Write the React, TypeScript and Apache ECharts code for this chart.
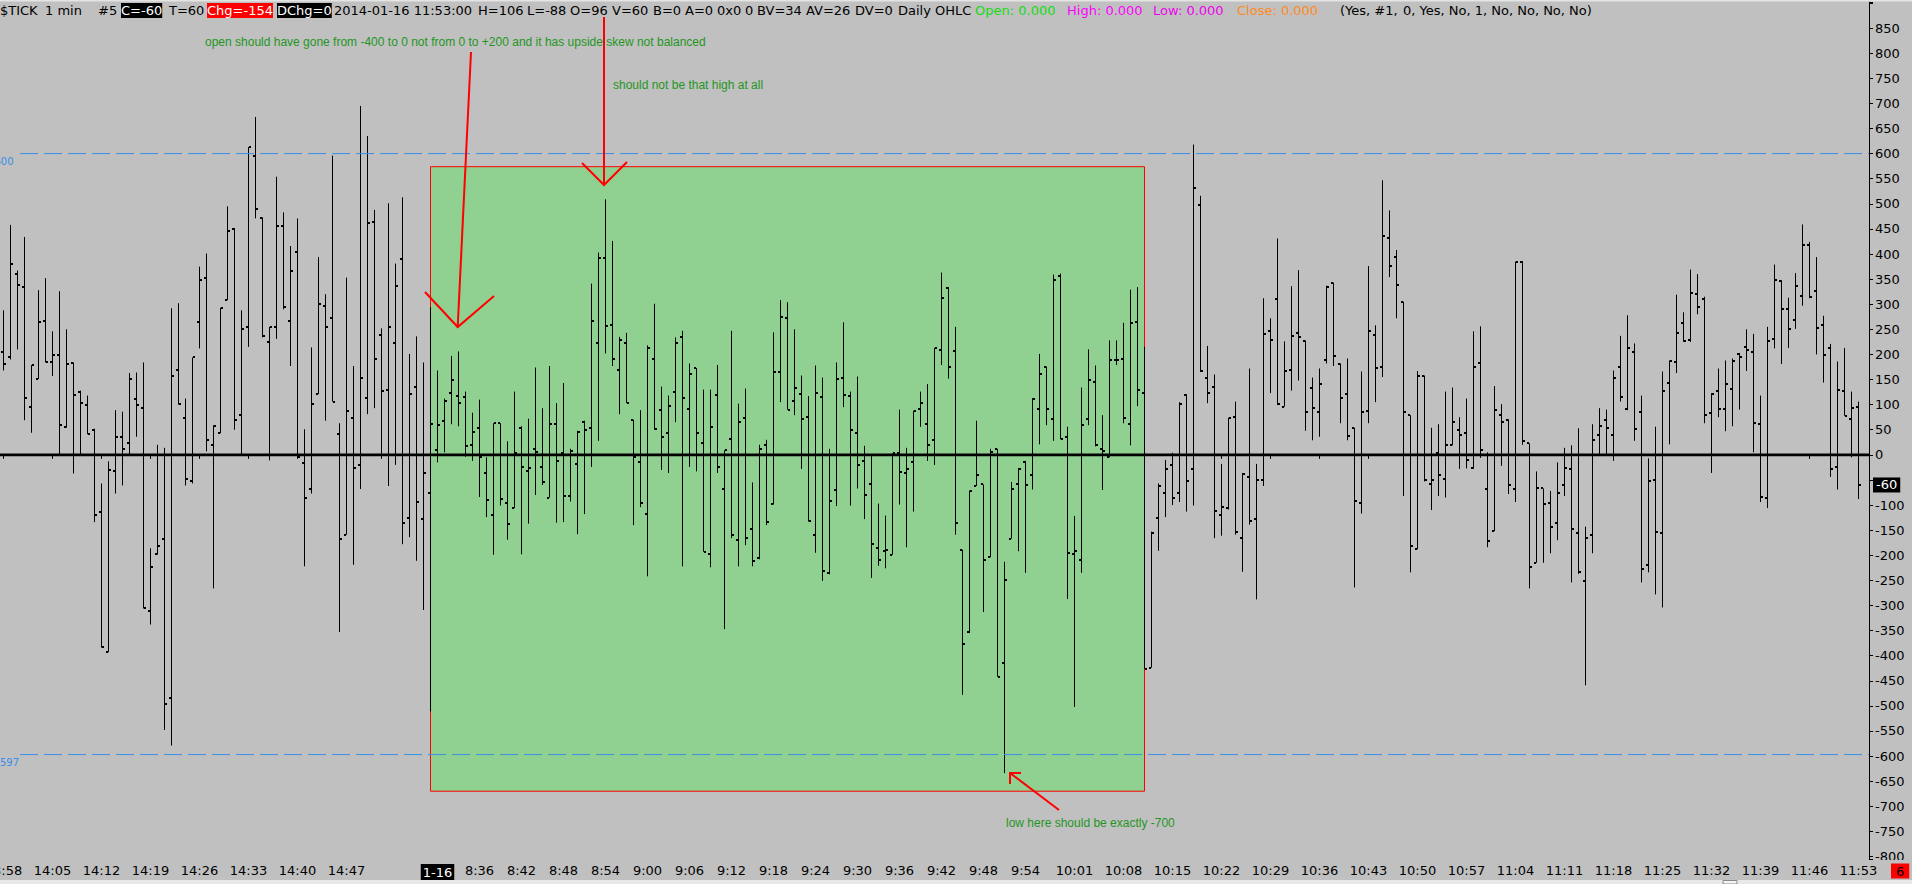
import React, { useEffect, useRef } from 'react';
import * as echarts from 'echarts';

// ---------- data ----------
const SESSIONS = [
  { date: '1-15', startHour: 13, startMinute: 58, bars: 62 },
  { date: '1-16', startHour: 8, startMinute: 30, bars: 204 },
];
const EMPTY_SLOTS = 1;

const TICK_TIMES = [
  '13:58', '14:05', '14:12', '14:19', '14:26', '14:33', '14:40', '14:47',
  '8:30', '8:36', '8:42', '8:48', '8:54', '9:00', '9:06', '9:12', '9:18', '9:24', '9:30', '9:36', '9:42', '9:48', '9:54',
  '10:01', '10:08', '10:15', '10:22', '10:29', '10:36', '10:43', '10:50', '10:57', '11:04', '11:11', '11:18', '11:25', '11:32', '11:39', '11:46', '11:53',
];
const DATE_TICK = { time: '8:30', label: '1-16' };

const OPENS = [
  204, 195, 360, 334, 96, 151, 266, 184, 199, 56,
  183, 126, 99, 50, -114, -392, -32, 36, 23, 112,
  93, -311, -198, -167, -484, 169, 74, -52, 264, 353,
  20, 44, 309, 450, 79, 255, 596, 471, 225, 254,
  455, 267, 405, -17, -69, 122, 297, 272, 42, -159,
  74, -20, 114, 463, 238, 130, 222, 391, -126, 136,
  -128, -76, 10, 68, 124, 118, 115, 20, 53, -36,
  -119, 63, -95, -106, 54, -33, 12, -24, -85, 61,
  3, -82, -18, 65, 54, 223, 393, 259, 170, 223,
  70, -14, -118, 191, 90, 44, 126, 234, 92, 172,
  24, -198, 120, -68, 32, -170, 74, -148, -206, 20,
  -98, 166, 273, 108, 122, 76, -159, 116, -235, -71,
  153, 118, 44, -12, -58, -185, -191, -199, 3, -36,
  -14, 92, 62, 30, 208, 333, 206, -189, -353, -62,
  -59, -204, 12, -414, -167, -58, -14, -41, 92, 175,
  72, 356, 36, -198, -209, 72, 146, 11, -4, 188,
  191, 62, 264, 124, -424, -126, -76, -20, -76, 120,
  -28, 498, 154, 136, -119, -106, 76, -166, -44, -127,
  -51, 247, 310, 96, 169, 243, 226, 134, 85, 188,
  342, 180, 122, 54, -95, 87, 239, 175, 431, 394,
  305, 79, -188, 158, -59, 4, -48, 20, 50, 44,
  -26, 182, -69, -151, 79, 70, -69, 385, 23, -215,
  -67, -96, -135, -61, -28, -156, -251, -159, 40, 70,
  40, 174, 92, 204, 85, -219, -50, -156, 143, 184,
  263, 229, 321, 310, 83, 127, 92, 132, 201, 214,
  205, 61, -85, 231, 347, 291, 269, 316, 417, 327,
  258, 212, -24, 128, 72, 96,
];
const HIGHS = [
  288, 458, 367, 434, 179, 328, 352, 246, 326, 250,
  184, 128, 118, 52, -57, -13, 89, 86, 163, 164,
  184, -186, 20, 14, 292, 302, 112, 194, 375, 401,
  59, 293, 495, 452, 288, 613, 673, 473, 255, 554,
  483, 416, 471, 51, 214, 394, 320, 596, 63, 353,
  177, 695, 635, 488, 252, 501, 381, 513, 201, 236,
  184, 294, 168, 112, 197, 206, 126, 84, 110, -5,
  63, 63, 27, 126, 57, 72, 174, 93, 177, 103,
  143, 12, 48, 68, 341, 403, 509, 426, 235, 243,
  70, 89, 218, 301, 136, 118, 234, 247, 182, 173,
  130, 130, 179, 9, 247, 102, 132, -55, 20, 30,
  244, 308, 304, 250, 158, 117, 178, 154, 12, 184,
  264, 126, 156, 18, 0, -97, -121, 3, 90, 14,
  88, 126, 141, 213, 363, 334, 255, -189, -71, 68,
  -59, 12, 12, -213, -54, -26, -12, 113, 201, 176,
  359, 361, 56, -122, 134, 210, 178, 79, 228, 228,
  263, 329, 334, 215, -153, -57, -10, 4, 105, 121,
  618, 516, 217, 160, -18, 74, 106, -36, 172, -18,
  312, 272, 431, 226, 336, 368, 228, 154, 172, 337,
  343, 182, 192, 54, 166, 376, 258, 547, 487, 408,
  305, 79, 167, 158, 54, 61, 126, 134, 75, 112,
  246, 256, 5, 137, 101, 71, 385, 386, 23, -33,
  -67, -72, -15, 14, 19, 53, -143, 61, 93, 90,
  168, 237, 278, 222, 118, -7, 56, 166, 188, 319,
  284, 369, 360, 315, 123, 172, 188, 192, 203, 250,
  241, 118, 255, 379, 348, 313, 362, 459, 424, 394,
  277, 221, 186, 213, 126, 106,
];
const LOWS = [
  168, 190, 210, 69, 44, 151, 184, 157, 0, 54,
  -37, 0, 41, -134, -384, -393, -77, -61, 0, 36,
  -306, -338, -199, -548, -579, 100, -61, -57, 212, 7,
  -266, 43, 308, 50, 0, 215, 471, 234, -11, 231,
  290, 177, -4, -222, -77, 121, 68, 106, -353, -159,
  -219, -68, 81, 93, -8, -62, -20, -178, -164, -211,
  -309, -511, -15, 5, 61, 57, -4, -12, -84, -124,
  -199, -101, -169, -106, -198, -137, -80, -60, -85, -135,
  -134, -93, -158, -118, -24, 28, 202, 177, 81, 103,
  -140, -104, -242, 50, -30, -36, 65, -222, -24, -33,
  -193, -224, -36, -347, -166, -222, -180, -222, -208, -140,
  -99, 105, 90, 79, -28, -133, -195, -251, -238, -102,
  95, -101, -67, -128, -245, -221, -226, -199, -99, -184,
  -113, 56, -12, -20, 179, 152, -159, -478, -355, -62,
  -313, -204, -442, -634, -167, -192, -235, -69, 21, 59,
  28, 31, -287, -502, -235, 59, 17, -70, -5, 179,
  63, 19, 97, -426, -424, -191, -124, -100, -94, -113,
  -101, 165, 103, -166, -161, -109, -159, -233, -139, -288,
  -62, 123, 99, 96, 128, 148, 48, 29, 36, 182,
  177, 63, 29, -264, -117, 63, 105, 155, 354, 272,
  -82, -234, -188, -53, -110, -82, -85, 19, -28, -27,
  -28, -6, -184, -152, -22, -78, -94, 20, -266, -215,
  -215, -196, -170, -82, -254, -237, -459, -196, 2, 2,
  -12, 106, 89, 28, -254, -234, -278, -304, 21, 163,
  225, 225, 280, 63, -36, 75, 47, 57, 90, 167,
  5, -94, -106, 212, 181, 213, 251, 297, 312, 200,
  144, -44, -69, 78, -5, -88,
];
const CLOSES = [
  180, 381, 339, 114, 178, 264, 184, 199, 59, 180,
  119, 104, 42, -119, -383, -30, 36, 12, 151, 99,
  -305, -223, -182, -497, 158, 101, -48, 194, 348, 30,
  57, 293, 445, 70, 251, 613, 489, 236, 254, 455,
  295, 367, -4, -85, 101, 301, 254, 106, -167, 88,
  -26, 153, 461, 190, 127, 254, 337, -135, 122, -93,
  -36, 62, 59, 107, 150, 103, 17, 46, -4, -89,
  63, -87, -137, 3, -24, -26, 5, -54, 61, -13,
  -82, 7, 46, 50, 267, 393, 257, 191, 228, 104,
  -4, -95, 212, 52, 35, 98, 223, 114, 162, 44,
  -193, 56, -24, 9, -160, 66, -166, -212, 12, -133,
  166, 275, 90, 134, 72, -132, 124, -231, -91, 151,
  119, 50, -20, -80, -177, -209, -190, 3, -34, -28,
  88, 104, 20, 212, 313, 175, -135, -377, -72, -41,
  -209, 6, -442, -249, -68, -29, -60, 112, 162, 92,
  349, 32, -196, -192, 59, 150, 20, 8, 188, 188,
  74, 263, 130, -426, -155, -63, -28, -85, 101, -52,
  531, 167, 124, -111, -103, 73, -154, -39, -132, -51,
  241, 228, 101, 167, 236, 234, 85, 93, 142, 334,
  196, 114, 38, -92, 85, 247, 172, 436, 377, 339,
  85, -182, 158, -51, -50, -41, 20, 66, 40, -10,
  174, 9, -171, 90, 66, -61, 385, 28, -223, -67,
  -98, -143, -75, -26, -148, -233, -166, 29, 57, 54,
  154, 116, 212, 52, -227, -52, -153, 127, 187, 243,
  227, 323, 295, 79, 122, 92, 142, 187, 195, 209,
  64, -84, 227, 348, 291, 251, 337, 418, 315, 253,
  199, -28, 130, 78, 93, -60,
];

const Y_MIN = -805;
const Y_MAX = 902;
const Y_STEP = 50;
const Y_LABEL_RANGE = [-800, 850];
const REF_LINES = [600, -597];
const LAST_PRICE = -60;
const HIGHLIGHT = { fromTime: '14:59', toTime: '10:11', top: 574, bottom: -670 };

const HEADER_TEXTS = [
  '$TICK', '1 min', '#5', 'C=-60', 'T=60', 'Chg=-154', 'DChg=0', '2014-01-16 11:53:00',
  'H=106', 'L=-88', 'O=96', 'V=60', 'B=0', 'A=0', '0x0', '0', 'BV=34', 'AV=26', 'DV=0',
  'Daily OHLC', 'Open: 0.000', 'High: 0.000', 'Low: 0.000', 'Close: 0.000',
  '(Yes, #1,', '0, Yes, No, 1, No, No, No, No)',
];
const NOTES = [
  'open should have gone from -400 to 0 not from 0 to +200 and it has upside skew not balanced',
  'should not be that high at all',
  'low here should be exactly -700',
];
const BAR_TIMER = '6';

// ---------- layout / style ----------
const W = 1912;
const H = 884;
const GRID = { left: 0, right: 43, top: 2, bottom: 25 };
const BG = '#c0c0c0';
const FONT = 'DejaVu Sans';
const HEADER_LAYOUT: any[] = [
  { x: 0 }, { x: 45 }, { x: 98 }, { x: 121, bg: '#000', fill: '#fff' }, { x: 169 },
  { x: 207, bg: '#ff0000', fill: '#fff' }, { x: 277, bg: '#000', fill: '#fff' }, { x: 334 },
  { x: 478 }, { x: 527 }, { x: 570 }, { x: 612 }, { x: 653 }, { x: 685 }, { x: 717 }, { x: 745 },
  { x: 757 }, { x: 806 }, { x: 855 }, { x: 898 },
  { x: 975, fill: '#14dc14' }, { x: 1067, fill: '#ff00ff' }, { x: 1153, fill: '#ee00ee' }, { x: 1237, fill: '#ff8a1e' },
  { x: 1340 }, { x: 1403 },
];
const NOTE_LAYOUT = [
  { x: 205, y: 42 },
  { x: 613, y: 85 },
  { x: 1006, y: 823 },
];
const ARROWS: number[][][] = [
  [[471, 52], [457.7, 327]],
  [[425, 292], [457.7, 327], [494, 296]],
  [[604, 17], [604, 185]],
  [[582, 163], [604, 185], [627, 162]],
  [[1059, 810], [1010, 773]],
  [[1021, 773], [1010, 773], [1010, 784]],
];

function buildCategories(): string[] {
  const out: string[] = [];
  SESSIONS.forEach((s) => {
    for (let i = 0; i < s.bars; i++) {
      const t = s.startHour * 60 + s.startMinute + i;
      out.push(`${Math.floor(t / 60)}:${String(t % 60).padStart(2, '0')}`);
    }
  });
  for (let i = 0; i < EMPTY_SLOTS; i++) out.push('');
  return out;
}

const CATEGORIES = buildCategories();
const TICK_SET = new Set(TICK_TIMES);

function buildOption(): any {
  const data = OPENS.map((o, i) => [i, o, HIGHS[i], LOWS[i], CLOSES[i]]);
  const renderItem = (_params: any, api: any) => {
    const i = api.value(0);
    const pO = api.coord([i, api.value(1)]);
    const pH = api.coord([i, api.value(2)]);
    const pL = api.coord([i, api.value(3)]);
    const pC = api.coord([i, api.value(4)]);
    const x = pO[0];
    return {
      type: 'group',
      children: [
        { type: 'line', shape: { x1: x, y1: pH[1], x2: x, y2: pL[1] }, style: { stroke: '#000', lineWidth: 1 } },
        { type: 'rect', shape: { x: x - 2.5, y: Math.round(pO[1]) - 1, width: 2, height: 2 }, style: { fill: '#000' } },
        { type: 'rect', shape: { x: x + 0.5, y: Math.round(pC[1]) - 1, width: 2, height: 2 }, style: { fill: '#000' } },
      ],
    };
  };
  return {
    animation: false,
    backgroundColor: BG,
    textStyle: { fontFamily: FONT },
    grid: { ...GRID, containLabel: false, outerBoundsMode: 'none' },
    xAxis: {
      type: 'category',
      data: CATEGORIES,
      boundaryGap: true,
      axisLine: { show: true, lineStyle: { color: '#000', width: 1 } },
      axisTick: {
        show: true,
        alignWithLabel: true,
        length: 4,
        interval: (_i: number, v: string) => TICK_SET.has(v),
        lineStyle: { color: '#000' },
      },
      axisLabel: {
        interval: (_i: number, v: string) => TICK_SET.has(v),
        formatter: (v: string) => (v === DATE_TICK.time ? `{d|${DATE_TICK.label}}` : v),
        color: '#000',
        fontSize: 13,
        fontFamily: FONT,
        margin: 5,
        hideOverlap: false,
        rich: {
          d: { backgroundColor: '#000', color: '#fff', fontSize: 13, fontFamily: FONT, padding: [2, 2, 1, 2] },
        },
      },
      splitLine: { show: false },
    },
    yAxis: {
      type: 'value',
      position: 'right',
      min: Y_MIN,
      max: Y_MAX,
      splitNumber: 34,
      minInterval: Y_STEP,
      maxInterval: Y_STEP,
      axisLine: { show: true, lineStyle: { color: '#000', width: 1 } },
      axisTick: { show: true, length: 4, lineStyle: { color: '#000' } },
      axisLabel: {
        color: '#000',
        fontSize: 13,
        fontFamily: FONT,
        margin: 6,
        formatter: (v: number) =>
          v % Y_STEP === 0 && v >= Y_LABEL_RANGE[0] && v <= Y_LABEL_RANGE[1] && Math.abs(v - LAST_PRICE) >= 20
            ? String(v)
            : '',
      },
      splitLine: { show: false },
    },
    series: [
      {
        type: 'custom',
        renderItem,
        data,
        encode: { x: 0, y: [1, 2, 3, 4] },
        z: 2,
      },
    ],
  };
}

function buildGraphics(chart: any): any[] {
  const pt = (i: number, v: number) => chart.convertToPixel({ gridIndex: 0 }, [i, v]) as number[];
  const yOf = (v: number) => chart.convertToPixel({ yAxisIndex: 0 }, v) as number;
  const plotLeft = GRID.left;
  const plotRight = W - GRID.right;
  const els: any[] = [];

  // window strips
  els.push({ type: 'rect', shape: { x: 0, y: 0, width: W, height: 1.5 }, style: { fill: '#e4e4e4' }, z: 100 });
  els.push({ type: 'rect', shape: { x: 0, y: 880, width: W, height: 4 }, style: { fill: '#e8e8e8' }, z: 100 });
  els.push({ type: 'rect', shape: { x: 1723, y: 880.5, width: 14, height: 3.5 }, style: { fill: '#f4f4f4', stroke: '#8a8a8a', lineWidth: 1 }, z: 101 });

  // highlight box
  const a = pt(CATEGORIES.indexOf(HIGHLIGHT.fromTime), HIGHLIGHT.top);
  const b = pt(CATEGORIES.indexOf(HIGHLIGHT.toTime), HIGHLIGHT.bottom);
  els.push({
    type: 'rect',
    shape: { x: a[0], y: a[1], width: b[0] - a[0], height: b[1] - a[1] },
    style: { fill: '#90d090', stroke: '#ff0000', lineWidth: 1 },
    z: 1,
  });

  // zero line
  const y0 = yOf(0);
  els.push({ type: 'line', shape: { x1: plotLeft, y1: y0, x2: plotRight, y2: y0 }, style: { stroke: '#000', lineWidth: 2.6 }, z: 100 });

  // reference dashed lines
  REF_LINES.forEach((v, idx) => {
    const y = yOf(v);
    els.push({
      type: 'line',
      shape: { x1: 20, y1: y, x2: plotRight, y2: y },
      style: { stroke: '#3a8ee6', lineWidth: 1, lineDash: [18, 6] },
      z: 100,
    });
    els.push({
      type: 'text',
      x: idx === 0 ? 13.5 : 19,
      y: y + 7.5,
      style: { text: String(v), fill: '#3a8ee6', fontSize: 10, fontFamily: FONT, align: 'right', verticalAlign: 'middle' },
      z: 100,
    });
  });

  // last price box on the price scale
  els.push({
    type: 'text',
    x: plotRight + 4,
    y: yOf(LAST_PRICE),
    style: {
      text: String(LAST_PRICE), fill: '#fff', backgroundColor: '#000', fontSize: 13, fontFamily: FONT,
      verticalAlign: 'middle', padding: [1, 3, 1, 3],
    },
    z: 100,
  });

  // cover for scale below time axis, bar timer
  els.push({ type: 'rect', shape: { x: 1877, y: 860, width: W - 1877, height: 20 }, style: { fill: BG }, z: 99 });
  els.push({
    type: 'text',
    x: 1891,
    y: 871,
    style: { text: BAR_TIMER, fill: '#000', backgroundColor: '#ff0000', fontSize: 13, fontFamily: FONT, verticalAlign: 'middle', padding: [1, 5, 1, 5] },
    z: 101,
  });

  // header
  HEADER_TEXTS.forEach((t, i) => {
    const l = HEADER_LAYOUT[i];
    els.push({
      type: 'text',
      x: l.x,
      y: 10.5,
      style: {
        text: t,
        fill: l.fill || '#000',
        backgroundColor: l.bg,
        padding: l.bg ? [1, 0, 1, 0] : 0,
        fontSize: 13,
        fontFamily: FONT,
        verticalAlign: 'middle',
      },
      z: 100,
    });
  });

  // notes
  NOTES.forEach((t, i) => {
    els.push({
      type: 'text',
      x: NOTE_LAYOUT[i].x,
      y: NOTE_LAYOUT[i].y,
      style: { text: t, fill: '#1f961f', fontSize: 12, fontFamily: 'Liberation Sans', verticalAlign: 'middle' },
      z: 100,
    });
  });

  // arrows
  ARROWS.forEach((pts) => {
    els.push({
      type: 'polyline',
      shape: { points: pts },
      style: { stroke: '#ff0000', lineWidth: 2, fill: null },
      z: 100,
    });
  });

  return els;
}

export default function App() {
  const ref = useRef<HTMLDivElement>(null);
  useEffect(() => {
    const el = ref.current;
    if (!el) return;
    const chart = echarts.init(el, null, { renderer: 'svg' });
    chart.setOption(buildOption());
    chart.setOption({ graphic: { elements: buildGraphics(chart) } });
    return () => {
      chart.dispose();
    };
  }, []);
  return <div ref={ref} style={{ position: 'absolute', left: 0, top: 0, width: W, height: H }} />;
}
